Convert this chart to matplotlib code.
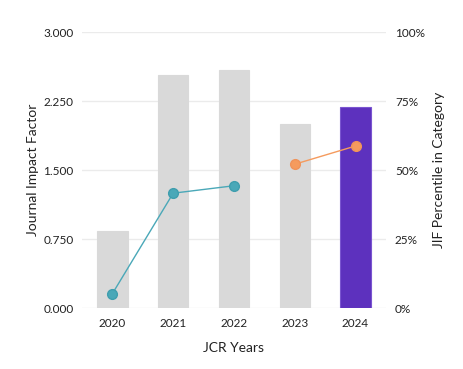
import matplotlib
matplotlib.use("Agg")
import matplotlib.pyplot as plt
from matplotlib.ticker import FuncFormatter

years = ["2020", "2021", "2022", "2023", "2024"]
jif = [0.84, 2.54, 2.59, 2.00, 2.19]
pct_teal_years = ["2020", "2021", "2022"]
pct_teal = [5.3, 41.7, 44.4]
pct_orange_years = ["2023", "2024"]
pct_orange = [52.2, 58.8]
left_ticks = [0.0, 0.75, 1.5, 2.25, 3.0]
right_ticks = [0, 25, 50, 75, 100]

plt.rcParams['font.family'] = ['Lato', 'DejaVu Sans']

fig = plt.figure(figsize=(4.64, 3.69), dpi=100)
ax = fig.add_axes([0.1767, 0.1645, 0.655, 0.748])
ax2 = ax.twinx()

bar_colors = ["#d9d9d9"] * (len(years) - 1) + ["#5d31be"]
edge_colors = ["#d9d9d9"] * (len(years) - 1) + ["#7a55d0"]
xpos = list(range(len(years)))
ax.bar(xpos, jif, width=0.5, color=bar_colors, edgecolor=edge_colors, linewidth=0.8, zorder=2)
ax.set_ylim(0, 3.0)
ax.set_xlim(-0.5, len(years) - 0.5)
ax.set_yticks(left_ticks)
ax.yaxis.set_major_formatter(FuncFormatter(lambda v, p: f"{v:.3f}"))
ax.set_xticks(xpos)
ax.set_xticklabels(years)
ax.grid(axis='y', color='#ebebeb', linewidth=1, zorder=0)
ax.set_axisbelow(True)

ti = [years.index(y) for y in pct_teal_years]
oi = [years.index(y) for y in pct_orange_years]
ax2.plot(ti, pct_teal, color="#4aa8b8", linewidth=1, marker='o', markersize=7,
         markerfacecolor="#4aa8b8", markeredgecolor="#3f9eae", zorder=3)
ax2.plot(oi, pct_orange, color="#f59b5e", linewidth=1, marker='o', markersize=7,
         markerfacecolor="#f59b5e", markeredgecolor="#f0935a", zorder=3)
ax2.set_ylim(0, 100)
ax2.set_yticks(right_ticks)
ax2.yaxis.set_major_formatter(FuncFormatter(lambda v, p: f"{int(v)}%"))

for a in (ax, ax2):
    for s in a.spines.values():
        s.set_visible(False)
    a.tick_params(length=0, labelsize=8.5, colors='#222222')
ax.tick_params(axis='y', pad=6)
ax.tick_params(axis='x', pad=7)
ax2.tick_params(axis='y', pad=6.5)

ax.set_xlabel("JCR Years", fontsize=10, color='#222222', labelpad=9)
ax.set_ylabel("Journal Impact Factor", fontsize=10, color='#222222', labelpad=3)
ax2.set_ylabel("JIF Percentile in Category", fontsize=10, color='#222222', labelpad=6)

fig.savefig("out.png", dpi=100)
